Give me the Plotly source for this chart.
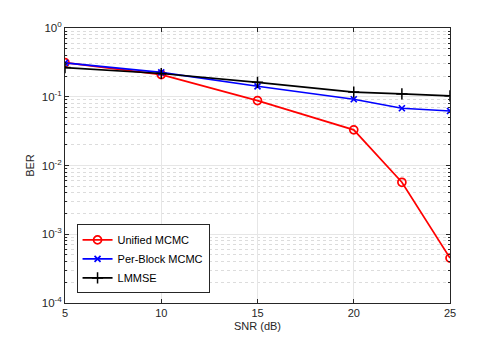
import plotly.graph_objects as go

snr = [5, 10, 15, 20, 22.5, 25]
ber_unified = [0.313, 0.21, 0.088, 0.033, 0.0057, 0.00045]
ber_perblock = [0.31, 0.226, 0.142, 0.092, 0.068, 0.062]
ber_lmmse = [0.266, 0.218, 0.162, 0.117, 0.11, 0.103]

x_ticks = [5, 10, 15, 20, 25]
y_ticks = [1e-4, 1e-3, 1e-2, 1e-1, 1]
y_labels = ["10<sup>-4</sup>", "10<sup>-3</sup>", "10<sup>-2</sup>", "10<sup>-1</sup>", "10<sup>0</sup>"]

minor_y = [k * 10.0 ** e for e in range(-4, 0) for k in range(2, 10)]

fig = go.Figure()
fig.add_trace(go.Scatter(
    x=snr, y=ber_unified, name="Unified MCMC", mode="lines+markers",
    line=dict(color="#ff0000", width=1.7),
    marker=dict(symbol="circle-open", size=8, color="#ff0000", line=dict(width=1.7)),
))
fig.add_trace(go.Scatter(
    x=snr, y=ber_perblock, name="Per-Block MCMC", mode="lines+markers",
    line=dict(color="#0000ff", width=1.7),
    marker=dict(symbol="x-thin-open", size=6, color="#0000ff", line=dict(width=1.7, color="#0000ff")),
))
fig.add_trace(go.Scatter(
    x=snr, y=ber_lmmse, name="LMMSE", mode="lines+markers",
    line=dict(color="#000000", width=1.7),
    marker=dict(symbol="cross-thin-open", size=8, color="#000000", line=dict(width=1.5, color="#000000")),
))

axis_font = dict(family="Liberation Sans, Arial", size=11, color="#262626")
fig.update_layout(
    width=498, height=339,
    margin=dict(l=57, r=56, t=17, b=44),
    paper_bgcolor="white", plot_bgcolor="white",
    font=axis_font,
    showlegend=True,
    legend=dict(
        x=0.03, y=0.035, xanchor="left", yanchor="bottom",
        bgcolor="white", bordercolor="#262626", borderwidth=1,
        font=dict(family="Liberation Sans, Arial", size=11, color="black"),
        tracegroupgap=0, itemwidth=30,
    ),
)
fig.update_xaxes(
    title=dict(text="SNR (dB)", font=axis_font, standoff=4),
    range=[5, 25], tickvals=x_ticks, tickfont=dict(size=11),
    showline=True, linecolor="#262626", linewidth=1, mirror="ticks",
    ticks="inside", ticklen=4, tickcolor="#262626",
    showgrid=True, gridcolor="#e6e6e6", gridwidth=1, zeroline=False,
)
fig.update_yaxes(
    title=dict(text="BER", font=axis_font, standoff=4),
    type="log", range=[-4, 0], tickvals=y_ticks, ticktext=y_labels, tickfont=dict(size=11.5),
    showline=True, linecolor="#262626", linewidth=1, mirror="ticks",
    ticks="inside", ticklen=4, tickcolor="#262626",
    showgrid=True, gridcolor="#e6e6e6", gridwidth=1, zeroline=False,
    minor=dict(tickvals=minor_y, ticks="inside", ticklen=2, tickcolor="#262626",
               showgrid=True, gridcolor="#dcdcdc", griddash="dot", gridwidth=1),
)

fig.write_html("out.html")
